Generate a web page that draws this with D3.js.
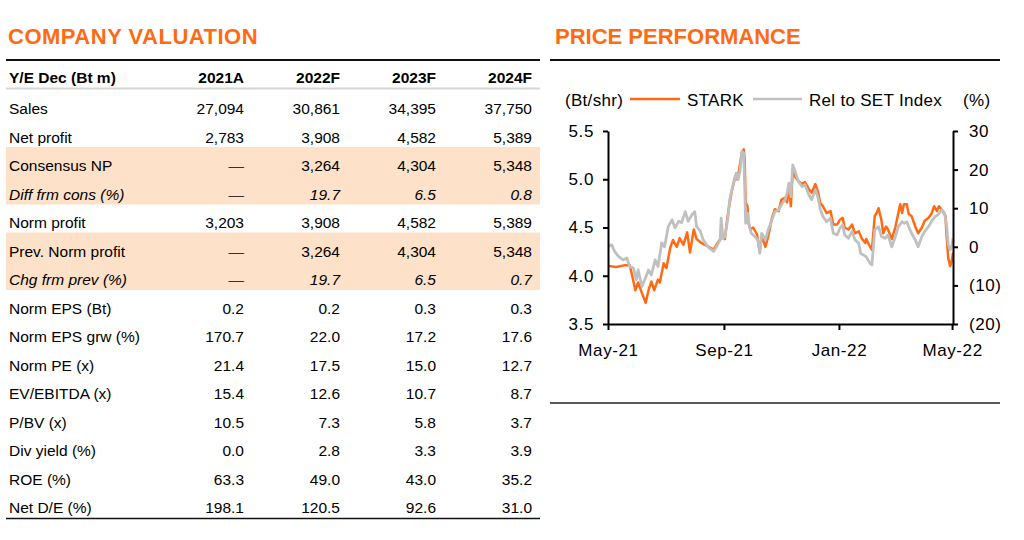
<!DOCTYPE html>
<html>
<head>
<meta charset="utf-8">
<script src="https://cdn.jsdelivr.net/npm/d3@7"></script>
<style>
  body { margin: 0; background: #fff; }
  svg text { font-family: "Liberation Sans", Arial, Helvetica, sans-serif; }
</style>
</head>
<body>
<div id="chart"></div>
<script>
/**
 * Table data
 */
// column headers of the valuation table
var yearCols = ["2021A", "2022F", "2023F", "2024F"];
// row labels
var rowLabels = ["Sales", "Net profit", "Consensus NP", "Diff frm cons (%)", "Norm profit",
  "Prev. Norm profit", "Chg frm prev (%)", "Norm EPS (Bt)", "Norm EPS grw (%)", "Norm PE (x)",
  "EV/EBITDA (x)", "P/BV (x)", "Div yield (%)", "ROE (%)", "Net D/E (%)"];
// values per year column
var val2021 = ["27,094", "2,783", "—", "—", "3,203", "—", "—", "0.2", "170.7", "21.4", "15.4", "10.5", "0.0", "63.3", "198.1"];
var val2022 = ["30,861", "3,908", "3,264", "19.7", "3,908", "3,264", "19.7", "0.2", "22.0", "17.5", "12.6", "7.3", "2.8", "49.0", "120.5"];
var val2023 = ["34,395", "4,582", "4,304", "6.5", "4,582", "4,304", "6.5", "0.3", "17.2", "15.0", "10.7", "5.8", "3.3", "43.0", "92.6"];
var val2024 = ["37,750", "5,389", "5,348", "0.8", "5,389", "5,348", "0.7", "0.3", "17.6", "12.7", "8.7", "3.7", "3.9", "35.2", "31.0"];
// rows with peach shading, rows in italics
var shadedRows = ["Consensus NP", "Diff frm cons (%)", "Prev. Norm profit", "Chg frm prev (%)"];
var italicRows = ["Diff frm cons (%)", "Chg frm prev (%)"];

/**
 * Price performance data
 */
// STARK share price (Bt/shr)
var starkDates = ["2021-05-01","2021-05-10","2021-05-19","2021-05-24","2021-05-26","2021-05-30","2021-06-02","2021-06-06",
  "2021-06-10","2021-06-13","2021-06-16","2021-06-19","2021-06-23","2021-06-25","2021-06-29","2021-07-02","2021-07-06",
  "2021-07-09","2021-07-13","2021-07-16","2021-07-20","2021-07-24","2021-07-27","2021-07-31","2021-08-03","2021-08-08",
  "2021-08-14","2021-08-21","2021-08-24","2021-08-28","2021-08-31","2021-09-02","2021-09-04","2021-09-06","2021-09-09",
  "2021-09-13","2021-09-15","2021-09-17","2021-09-20","2021-09-22","2021-09-23","2021-09-24","2021-09-26","2021-09-27",
  "2021-09-29","2021-10-02","2021-10-06","2021-10-09","2021-10-11","2021-10-15","2021-10-18","2021-10-22","2021-10-25",
  "2021-10-29","2021-11-01","2021-11-05","2021-11-07","2021-11-09","2021-11-11","2021-11-13","2021-11-15","2021-11-19",
  "2021-11-23","2021-11-26","2021-11-30","2021-12-03","2021-12-07","2021-12-10","2021-12-12","2021-12-15","2021-12-19",
  "2021-12-23","2021-12-26","2021-12-30","2022-01-02","2022-01-05","2022-01-07","2022-01-11","2022-01-15","2022-01-18",
  "2022-01-22","2022-01-25","2022-01-29","2022-01-30","2022-02-03","2022-02-05","2022-02-08","2022-02-10","2022-02-12",
  "2022-02-15","2022-02-17","2022-02-20","2022-02-22","2022-02-26","2022-03-02","2022-03-05","2022-03-07","2022-03-09",
  "2022-03-11","2022-03-14","2022-03-16","2022-03-19","2022-03-23","2022-03-26","2022-03-30","2022-04-02","2022-04-06",
  "2022-04-09","2022-04-12","2022-04-15","2022-04-17","2022-04-21","2022-04-24","2022-04-25","2022-04-27","2022-04-29",
  "2022-05-01","2022-05-02"];
var starkPrice = [4.10,4.09,4.11,4.11,4.03,3.85,3.93,3.82,
  3.72,3.85,3.94,3.85,3.96,3.93,4.13,4.08,4.29,
  4.37,4.30,4.39,4.32,4.45,4.24,4.48,4.38,4.34,
  4.31,4.27,4.32,4.38,4.40,4.38,4.55,4.69,4.86,
  5.03,5.00,5.09,5.28,5.31,5.21,4.76,4.72,4.55,
  4.48,4.50,4.43,4.25,4.41,4.30,4.41,4.60,4.69,
  4.67,4.79,4.81,4.76,4.93,4.72,5.10,5.03,4.98,
  4.95,4.97,4.90,4.86,4.95,4.86,4.76,4.72,4.65,
  4.67,4.53,4.53,4.58,4.60,4.50,4.48,4.53,4.44,
  4.46,4.39,4.34,4.38,4.30,4.27,4.62,4.65,4.70,
  4.58,4.44,4.51,4.48,4.38,4.51,4.65,4.74,4.65,
  4.74,4.74,4.64,4.62,4.51,4.44,4.50,4.57,4.60,
  4.64,4.72,4.67,4.72,4.67,4.62,4.44,4.18,4.10,
  4.17,4.24];

// Relative to SET Index (%)
var relDates = ["2021-05-01","2021-05-05","2021-05-08","2021-05-12","2021-05-17","2021-05-21","2021-05-24","2021-05-28",
  "2021-05-31","2021-06-02","2021-06-06","2021-06-09","2021-06-13","2021-06-16","2021-06-20","2021-06-23","2021-06-27",
  "2021-06-30","2021-07-04","2021-07-08","2021-07-11","2021-07-15","2021-07-18","2021-07-22","2021-07-25","2021-07-29",
  "2021-08-01","2021-08-03","2021-08-07","2021-08-10","2021-08-15","2021-08-21","2021-08-24","2021-08-28","2021-08-29",
  "2021-08-31","2021-09-02","2021-09-05","2021-09-07","2021-09-11","2021-09-14","2021-09-16","2021-09-18","2021-09-20",
  "2021-09-22","2021-09-23","2021-09-24","2021-09-26","2021-09-28","2021-09-30","2021-10-04","2021-10-07","2021-10-09",
  "2021-10-11","2021-10-15","2021-10-18","2021-10-22","2021-10-25","2021-10-29","2021-11-01","2021-11-05","2021-11-07",
  "2021-11-09","2021-11-11","2021-11-13","2021-11-15","2021-11-19","2021-11-23","2021-11-26","2021-11-30","2021-12-03",
  "2021-12-07","2021-12-10","2021-12-12","2021-12-15","2021-12-19","2021-12-23","2021-12-26","2021-12-30","2022-01-02",
  "2022-01-05","2022-01-07","2022-01-11","2022-01-15","2022-01-18","2022-01-22","2022-01-24","2022-01-27","2022-01-30",
  "2022-02-03","2022-02-05","2022-02-08","2022-02-12","2022-02-15","2022-02-19","2022-02-22","2022-02-26","2022-03-02",
  "2022-03-05","2022-03-09","2022-03-11","2022-03-14","2022-03-16","2022-03-19","2022-03-23","2022-03-26","2022-03-30",
  "2022-04-02","2022-04-06","2022-04-09","2022-04-13","2022-04-16","2022-04-20","2022-04-23","2022-04-25","2022-04-27",
  "2022-04-29","2022-05-01","2022-05-02"];
var relPerf = [0.1,0.5,-1.2,-2.5,-3.4,-2.9,-5.1,-5.5,
  -8.5,-6.0,-10.3,-8.5,-6.0,-7.3,-3.4,-5.1,1.0,
  0.0,5.3,7.0,4.9,6.6,6.2,9.1,6.6,8.3,
  9.1,5.3,4.0,1.8,0.0,-1.2,0.0,1.8,7.4,
  2.2,2.6,7.0,12.1,16.5,19.1,17.4,19.5,24.7,
  24.3,15.6,6.1,8.7,5.2,3.5,2.6,1.8,-1.7,
  3.5,1.8,4.4,7.0,9.1,9.6,10.9,12.2,13.9,
  16.5,13.0,21.2,19.9,16.9,15.6,16.1,13.5,12.2,
  14.8,12.6,10.0,7.8,6.5,7.4,3.5,3.1,4.8,
  5.7,3.1,2.2,4.0,1.8,0.9,-1.7,-2.1,-2.6,
  -4.3,-4.7,4.4,5.2,2.7,2.2,3.1,0.0,2.7,
  5.2,6.5,6.1,6.5,5.2,3.5,1.8,0.0,2.7,
  4.0,5.2,6.5,7.8,8.3,9.6,8.7,6.1,0.5,
  -0.8,0.5,2.2];

// axis ticks
var priceTicks = [3.5, 4.0, 4.5, 5.0, 5.5];
var relTicks = [-20, -10, 0, 10, 20, 30];
var dateTicks = ["2021-05-01", "2021-09-01", "2022-01-01", "2022-05-01"];

/**
 * Global styles
 */
var orange = "#ff6a13";
var grey = "#c0c0c0";
var peach = "#fde1c8";

var svg = d3.select("#chart")
  .append("svg")
  .attr("width", 1024)
  .attr("height", 540);

/*** Left panel: Company valuation table ***/
svg.append("text")
  .attr("x", 8)
  .attr("y", 44)
  .attr("fill", orange)
  .attr("font-size", 22)
  .attr("font-weight", "bold")
  .attr("letter-spacing", 0.5)
  .text("COMPANY VALUATION");

// row and column scales
var rowScale = d3.scaleBand()
  .domain(rowLabels)
  .range([90, 90 + rowLabels.length * 28.5]);

var colScale = d3.scaleBand()
  .domain(yearCols)
  .range([148, 532]);

var tableGroup = svg.append("g");

// peach background for consensus / previous rows
tableGroup.selectAll("rect.shade")
  .data(shadedRows)
  .enter().append("rect")
  .attr("class", "shade")
  .attr("x", 6)
  .attr("width", 534)
  .attr("y", d => rowScale(d))
  .attr("height", rowScale.bandwidth() + 0.5)
  .attr("fill", peach);

// top, header and bottom rules
tableGroup.append("line")
  .attr("x1", 6).attr("x2", 540)
  .attr("y1", 60).attr("y2", 60)
  .attr("stroke", "#111").attr("stroke-width", 2);
tableGroup.append("line")
  .attr("x1", 6).attr("x2", 540)
  .attr("y1", 88.5).attr("y2", 88.5)
  .attr("stroke", "#d6d6d6").attr("stroke-width", 2);
tableGroup.append("line")
  .attr("x1", 6).attr("x2", 540)
  .attr("y1", rowScale.range()[1] + 1).attr("y2", rowScale.range()[1] + 1)
  .attr("stroke", "#111").attr("stroke-width", 1.5);

// header row
tableGroup.append("text")
  .attr("x", 9)
  .attr("y", 83)
  .attr("font-size", 15.5)
  .attr("font-weight", "bold")
  .text("Y/E Dec (Bt m)");

tableGroup.selectAll("text.colhead")
  .data(yearCols)
  .enter().append("text")
  .attr("class", "colhead")
  .attr("x", d => colScale(d) + colScale.bandwidth())
  .attr("y", 83)
  .attr("text-anchor", "end")
  .attr("font-size", 15.5)
  .attr("font-weight", "bold")
  .text(d => d);

// row labels
tableGroup.selectAll("text.rowlabel")
  .data(rowLabels)
  .enter().append("text")
  .attr("class", "rowlabel")
  .attr("x", 9)
  .attr("y", d => rowScale(d) + 24)
  .attr("font-size", 15.5)
  .attr("font-style", d => italicRows.indexOf(d) !== -1 ? "italic" : "normal")
  .text(d => d);

// values per column
var colValues = [val2021, val2022, val2023, val2024];
colValues.forEach((values, ci) => {
  tableGroup.append("g")
    .selectAll("text")
    .data(values)
    .enter().append("text")
    .attr("x", colScale(yearCols[ci]) + colScale.bandwidth())
    .attr("y", (d, i) => rowScale(rowLabels[i]) + 24)
    .attr("text-anchor", "end")
    .attr("font-size", 15.5)
    .attr("fill", d => d === "—" ? "#333" : "#000")
    .attr("font-style", (d, i) => (italicRows.indexOf(rowLabels[i]) !== -1 && d !== "—") ? "italic" : "normal")
    .text(d => d);
});

/*** Right panel: Price performance chart ***/
svg.append("text")
  .attr("x", 555)
  .attr("y", 44)
  .attr("fill", orange)
  .attr("font-size", 22)
  .attr("font-weight", "bold")
  .text("PRICE PERFORMANCE");

svg.append("line")
  .attr("x1", 550).attr("x2", 1000)
  .attr("y1", 60).attr("y2", 60)
  .attr("stroke", "#111").attr("stroke-width", 2);
svg.append("line")
  .attr("x1", 550).attr("x2", 1000)
  .attr("y1", 403).attr("y2", 403)
  .attr("stroke", "#222").attr("stroke-width", 1.5);

var parseDate = d3.timeParse("%Y-%m-%d");

var xScale = d3.scaleTime()
  .domain([parseDate(starkDates[0]), parseDate(starkDates[starkDates.length - 1])])
  .range([608, 953]);

var yPrice = d3.scaleLinear()
  .domain([3.5, 5.5])
  .range([324, 131]);

var yRel = d3.scaleLinear()
  .domain([-20, 30])
  .range([324, 131]);

var starkData = starkDates.map((d, i) => ({date: parseDate(d), value: starkPrice[i]}));
var relData = relDates.map((d, i) => ({date: parseDate(d), value: relPerf[i]}));

var chartGroup = svg.append("g");

// lines: stark first, rel index on top
chartGroup.append("path")
  .datum(starkData)
  .attr("fill", "none")
  .attr("stroke", orange)
  .attr("stroke-width", 2.5)
  .attr("stroke-linejoin", "round")
  .attr("d", d3.line().x(d => xScale(d.date)).y(d => yPrice(d.value)));

chartGroup.append("path")
  .datum(relData)
  .attr("fill", "none")
  .attr("stroke", grey)
  .attr("stroke-width", 2.8)
  .attr("stroke-linejoin", "round")
  .attr("d", d3.line().x(d => xScale(d.date)).y(d => yRel(d.value)));

// axes
var relFormat = d => d < 0 ? "(" + (-d) + ")" : "" + d;

var leftAxis = chartGroup.append("g")
  .attr("transform", "translate(608,0)")
  .call(d3.axisLeft(yPrice).tickValues(priceTicks).tickFormat(d3.format(".1f"))
    .tickSize(5).tickSizeOuter(0).tickPadding(9));

var rightAxis = chartGroup.append("g")
  .attr("transform", "translate(953,0)")
  .call(d3.axisRight(yRel).tickValues(relTicks).tickFormat(relFormat)
    .tickSize(5).tickSizeOuter(0).tickPadding(11));

var bottomAxis = chartGroup.append("g")
  .attr("transform", "translate(0,324)")
  .call(d3.axisBottom(xScale).tickValues(dateTicks.map(parseDate)).tickFormat(d3.timeFormat("%b-%y"))
    .tickSize(6).tickSizeOuter(0).tickPadding(14));

[leftAxis, rightAxis, bottomAxis].forEach(ax => {
  ax.select(".domain").attr("stroke", "#000").attr("stroke-width", 2);
  ax.selectAll(".tick line").attr("stroke", "#000").attr("stroke-width", 2);
  ax.selectAll(".tick text")
    .attr("fill", "#000")
    .attr("font-size", 17)
    .attr("letter-spacing", 0.6)
    .style("font-family", "'Liberation Sans', Arial, sans-serif");
});

// legend
var legend = svg.append("g").attr("font-size", 17).attr("letter-spacing", 0.3);
legend.append("text").attr("x", 565).attr("y", 106).text("(Bt/shr)");
legend.append("line")
  .attr("x1", 630).attr("x2", 680).attr("y1", 99).attr("y2", 99)
  .attr("stroke", orange).attr("stroke-width", 2.5);
legend.append("text").attr("x", 687).attr("y", 106).text("STARK");
legend.append("line")
  .attr("x1", 753).attr("x2", 802).attr("y1", 99).attr("y2", 99)
  .attr("stroke", grey).attr("stroke-width", 2.5);
legend.append("text").attr("x", 809).attr("y", 106).text("Rel to SET Index");
legend.append("text").attr("x", 963).attr("y", 106).text("(%)");
</script>
</body>
</html>
